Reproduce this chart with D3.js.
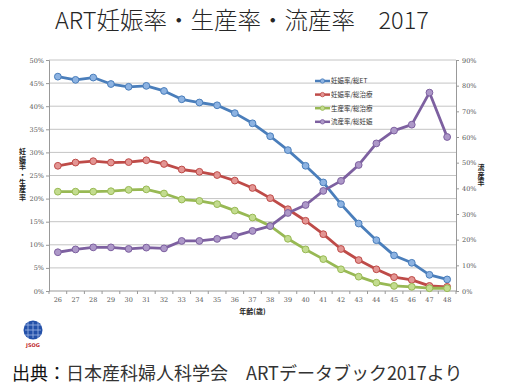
<!DOCTYPE html>
<html><head><meta charset="utf-8">
<script src="https://cdn.jsdelivr.net/npm/d3@7"></script>
<style>
html,body{margin:0;padding:0;background:#fff;}
svg{display:block;}
.vt{writing-mode:vertical-rl;text-orientation:upright;}
</style></head>
<body>
<svg id="c" width="510" height="391"></svg>
<script>
const ages = [26,27,28,29,30,31,32,33,34,35,36,37,38,39,40,41,42,43,44,45,46,47,48];
const pregPerET = [46.4,45.7,46.2,44.8,44.2,44.4,43.3,41.5,40.8,40.2,38.5,36.3,33.5,30.5,27.1,23.5,18.8,14.6,11.0,7.7,6.1,3.5,2.5];
const pregPerTx = [27.1,27.8,28.1,27.8,27.9,28.3,27.5,26.3,25.8,25.1,23.9,22.3,20.1,17.7,15.2,12.3,9.1,6.7,4.7,3.0,2.4,1.1,0.9];
const livePerTx = [21.5,21.5,21.5,21.6,21.9,22.0,21.1,19.8,19.5,18.8,17.4,15.9,14.1,11.3,9.0,6.9,4.7,3.1,1.8,1.1,0.9,0.6,0.6];
const miscPerPreg = [15.1,16.2,17.0,17.0,16.4,16.9,16.6,19.5,19.5,20.3,21.5,23.4,25.3,30.4,33.5,39.0,42.9,49.1,57.5,62.5,64.8,77.3,60.0];
const leftTicks = [0,5,10,15,20,25,30,35,40,45,50];
const rightTicks = [0,10,20,30,40,50,60,70,80,90];
const seriesNames = ["妊娠率/総ET","妊娠率/総治療","生産率/総治療","流産率/総妊娠"];
const seriesColors = ["#4a7ebb","#be4b48","#98b954","#7d60a0"];
const markerFills = ["#8db3e2","#e39593","#c3dc8f","#ad98c8"];

const svg = d3.select("#c");
const L = 49, R = 456, T = 60, B = 291;
const x = d3.scaleBand().domain(ages).range([L, R]);
const cx = d => x(d) + x.bandwidth()/2;
const yL = d3.scaleLinear().domain([0,50]).range([B, T]);
const yR = d3.scaleLinear().domain([0,90]).range([B, T]);

// title
svg.append("text").attr("x", 55).attr("y", 28.5)
  .attr("font-family","'Noto Sans CJK JP', 'Noto Sans', sans-serif")
  .attr("font-size", 23.5).attr("font-weight", 300).attr("fill","#262626")
  .text("ART妊娠率・生産率・流産率　2017");

// gridlines
svg.append("g").selectAll("line").data(leftTicks.filter(t=>t>0)).join("line")
  .attr("x1", L).attr("x2", R).attr("y1", d=>yL(d)).attr("y2", d=>yL(d))
  .attr("stroke", "#c4c4c4").attr("stroke-width", 1);

// axes
const fontTick = "'DejaVu Serif', serif";
const gL = svg.append("g").attr("transform", `translate(${L},0)`)
  .call(d3.axisLeft(yL).tickValues(leftTicks).tickSize(3).tickFormat(d=>d+"%"));
const gR = svg.append("g").attr("transform", `translate(${R},0)`)
  .call(d3.axisRight(yR).tickValues(rightTicks).tickSize(3).tickFormat(d=>d+"%"));
const gX = svg.append("g").attr("transform", `translate(0,${B})`)
  .call(d3.axisBottom(x).tickSize(0).tickPadding(6));
[gL,gR,gX].forEach(g=>{
  g.selectAll("path.domain").attr("stroke","#999");
  g.selectAll(".tick line").attr("stroke","#999");
  g.selectAll("text").attr("font-family", fontTick).attr("font-size", 6.5).attr("fill","#555");
});
gL.selectAll("text").attr("x",-5);
gR.selectAll("text").attr("x",6);
gX.selectAll("path.domain").attr("d", `M${L},0H${R}`);
// x boundary ticks
gX.append("g").selectAll("line").data(ages.concat([null])).join("line")
  .attr("x1", (d,i)=> i<ages.length ? x(d) : R)
  .attr("x2", (d,i)=> i<ages.length ? x(d) : R)
  .attr("y1", 0).attr("y2", 3).attr("stroke","#999");

// axis titles
const titleFont = "'Noto Sans CJK JP', sans-serif";
svg.append("text").attr("class","vt").attr("x", 22.5).attr("y", 148)
  .attr("font-family", titleFont).attr("font-size", 7).attr("font-weight", 700)
  .attr("letter-spacing", 0.6).attr("fill","#222").text("妊娠率・生産率");
svg.append("text").attr("class","vt").attr("x", 481).attr("y", 164)
  .attr("font-family", titleFont).attr("font-size", 7).attr("font-weight", 700)
  .attr("letter-spacing", 0.6).attr("fill","#222").text("流産率");
svg.append("text").attr("x", (L+R)/2).attr("y", 314).attr("text-anchor","middle")
  .attr("font-family", titleFont).attr("font-size", 7).attr("font-weight",700).attr("fill","#222")
  .text("年齢(歳)");

// series
const series = [
  {vals: pregPerET, y: yL},
  {vals: pregPerTx, y: yL},
  {vals: livePerTx, y: yL},
  {vals: miscPerPreg, y: yR}
];
series.forEach((s,i)=>{
  const line = d3.line().x((d,j)=>cx(ages[j])).y(d=>s.y(d));
  svg.append("path").datum(s.vals).attr("d", line)
    .attr("fill","none").attr("stroke", seriesColors[i]).attr("stroke-width", 2.8)
    .attr("stroke-linejoin","round");
  svg.append("g").selectAll("circle").data(s.vals).join("circle")
    .attr("cx", (d,j)=>cx(ages[j])).attr("cy", d=>s.y(d)).attr("r", 3.4)
    .attr("fill", markerFills[i]).attr("stroke", seriesColors[i]).attr("stroke-width", 1);
});

// legend
const lg = svg.append("g");
seriesNames.forEach((n,i)=>{
  const yy = 81 + i*13.6;
  lg.append("line").attr("x1",315).attr("x2",330).attr("y1",yy).attr("y2",yy)
    .attr("stroke", seriesColors[i]).attr("stroke-width", 2.5);
  lg.append("circle").attr("cx",322.5).attr("cy",yy).attr("r",2.2)
    .attr("fill", markerFills[i]).attr("stroke", seriesColors[i]).attr("stroke-width",0.8);
  lg.append("text").attr("x",331).attr("y",yy+2.4)
    .attr("font-family", titleFont).attr("font-size", 6.5).attr("fill","#333").text(n);
});

// logo
const logo = svg.append("g");
logo.append("circle").attr("cx",33).attr("cy",330).attr("r",9.5).attr("fill","#2350a8");
[-5,0,5].forEach(o=>{
  logo.append("line").attr("x1",33+o).attr("x2",33+o).attr("y1",322).attr("y2",338).attr("stroke","#9fb6e6").attr("stroke-width",0.8);
  logo.append("line").attr("y1",330+o).attr("y2",330+o).attr("x1",25).attr("x2",41).attr("stroke","#9fb6e6").attr("stroke-width",0.8);
});
logo.append("text").attr("x",33).attr("y",346.5).attr("text-anchor","middle")
  .attr("font-family","'DejaVu Sans', sans-serif").attr("font-size",5).attr("font-weight",700)
  .attr("fill","#c0282d").text("JSOG");

// source
const src = svg.append("text").attr("x", 12).attr("y", 380)
  .attr("font-family","'Noto Sans CJK JP', sans-serif").attr("font-size", 18);
src.append("tspan").attr("fill","#111").text("出典：");
src.append("tspan").attr("fill","#333").text("日本産科婦人科学会　ARTデータブック2017より");
</script>
</body></html>
